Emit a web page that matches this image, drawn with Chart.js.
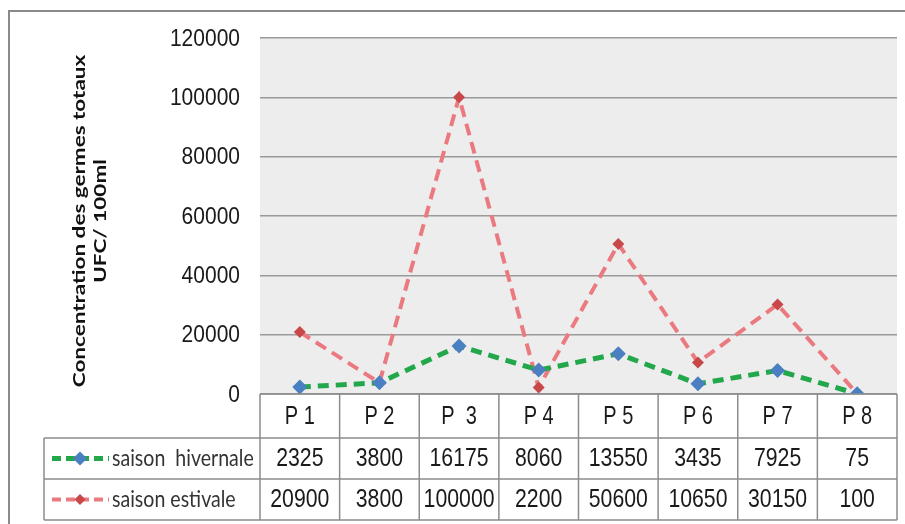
<!DOCTYPE html>
<html>
<head>
<meta charset="utf-8">
<script src="https://cdn.jsdelivr.net/npm/chart.js@4/dist/chart.umd.min.js"></script>
<style>
  html, body { margin: 0; padding: 0; background: #ffffff; }
  #wrap { position: relative; width: 905px; height: 524px; }
  #frame { position: absolute; left: 8px; top: 10px; width: 910px; height: 520px;
           border: 2px solid #8a8a8a; box-sizing: border-box; pointer-events: none; }
</style>
</head>
<body>
<div id="wrap">
  <canvas id="chart" width="905" height="524"></canvas>
  <div id="frame"></div>
</div>
<script>
// Sampling points
const categories = ['P 1', 'P 2', 'P  3', 'P 4', 'P 5', 'P 6', 'P 7', 'P 8'];
// Total germ counts (UFC / 100 ml)
const hiverValues = [2325, 3800, 16175, 8060, 13550, 3435, 7925, 75];
const esteValues = [20900, 3800, 100000, 2200, 50600, 10650, 30150, 100];
const seriesNames = ['saison  hivernale', 'saison estivale'];
const yTicks = [0, 20000, 40000, 60000, 80000, 100000, 120000];
const yTitle = ['Concentration des germes totaux', 'UFC/ 100ml'];

const NUM_FONT = '"Liberation Sans", Arial, sans-serif';
const TXT_FONT = 'Lato, "Open Sans", sans-serif';

// Draws text squeezed horizontally by sx around its anchor
function squeezedText(ctx, text, x, y, sx, align) {
  ctx.save();
  ctx.translate(x, y);
  ctx.scale(sx, 1);
  ctx.textAlign = align || 'center';
  ctx.fillText(text, 0, 0);
  ctx.restore();
}

// Grey plot area behind the lines
const plotBackground = {
  id: 'plotBackground',
  beforeDraw(chart) {
    const { ctx, chartArea: a } = chart;
    ctx.save();
    ctx.fillStyle = '#ededed';
    ctx.fillRect(a.left, a.top, a.right - a.left, a.bottom - a.top);
    ctx.restore();
  }
};

// Value axis labels and rotated two-line title
const valueAxis = {
  id: 'valueAxis',
  afterDraw(chart) {
    const { ctx, chartArea: a } = chart;
    const y = chart.scales.y;
    ctx.save();
    ctx.fillStyle = '#1a1a1a';
    ctx.textBaseline = 'middle';
    ctx.font = '24px ' + NUM_FONT;
    y.ticks.forEach(t => {
      squeezedText(ctx, String(t.value), a.left - 20, y.getPixelForValue(t.value) + 1, 0.875, 'right');
    });

    ctx.fillStyle = '#111111';
    ctx.font = 'bold 22.5px ' + TXT_FONT;
    const cy = (a.top + a.bottom) / 2 + 5;
    [[yTitle[0], 79], [yTitle[1], 100]].forEach(([txt, cx]) => {
      ctx.save();
      ctx.translate(cx, cy);
      ctx.rotate(-Math.PI / 2);
      ctx.scale(1, 0.76);
      ctx.textAlign = 'center';
      ctx.fillText(txt, 0, 0);
      ctx.restore();
    });
    ctx.restore();
  }
};

// Data table under the plot, with legend keys in the first column
const dataTable = {
  id: 'dataTable',
  afterDraw(chart) {
    const { ctx, chartArea: a } = chart;
    const x = chart.scales.x;
    const n = categories.length;
    const step = x.getPixelForTick(1) - x.getPixelForTick(0);
    const left = x.getPixelForTick(0) - step / 2;
    const right = x.getPixelForTick(n - 1) + step / 2;
    const legLeft = 44;
    const r0 = a.bottom, r1 = r0 + 44, r2 = r1 + 41, r3 = r2 + 41;

    ctx.save();
    ctx.strokeStyle = '#8c8c8c';
    ctx.lineWidth = 1.5;
    ctx.beginPath();
    ctx.moveTo(left, r0); ctx.lineTo(right, r0);
    [r1, r2, r3].forEach(y => { ctx.moveTo(legLeft, y); ctx.lineTo(right, y); });
    for (let i = 0; i <= n; i++) {
      const xx = left + i * step;
      ctx.moveTo(xx, r0); ctx.lineTo(xx, r3);
    }
    ctx.moveTo(legLeft, r1); ctx.lineTo(legLeft, r3);
    ctx.stroke();

    ctx.fillStyle = '#1a1a1a';
    ctx.textBaseline = 'middle';
    ctx.font = '25px ' + NUM_FONT;
    categories.forEach((c, i) => squeezedText(ctx, c, x.getPixelForTick(i), (r0 + r1) / 2 + 1, 0.8));
    const rows = [[hiverValues, (r1 + r2) / 2 + 1], [esteValues, (r2 + r3) / 2 + 1]];
    rows.forEach(([vals, yy]) => {
      vals.forEach((v, i) => squeezedText(ctx, String(v), x.getPixelForTick(i), yy, 0.85));
    });

    // legend keys
    chart.data.datasets.forEach((ds, k) => {
      const yy = k === 0 ? (r1 + r2) / 2 : (r2 + r3) / 2;
      ctx.save();
      ctx.strokeStyle = ds.borderColor;
      ctx.lineWidth = ds.borderWidth;
      ctx.setLineDash([9, 5]);
      ctx.beginPath();
      ctx.moveTo(52, yy); ctx.lineTo(109, yy);
      ctx.stroke();
      ctx.restore();
      const r = k === 0 ? 7 : 5.5;
      ctx.fillStyle = ds.pointBackgroundColor;
      ctx.beginPath();
      ctx.moveTo(80, yy - r); ctx.lineTo(80 + r, yy); ctx.lineTo(80, yy + r); ctx.lineTo(80 - r, yy);
      ctx.closePath();
      ctx.fill();
      ctx.fillStyle = '#333333';
      ctx.font = '23px ' + TXT_FONT;
      squeezedText(ctx, ds.label, 112, yy, 0.85, 'left');
    });
    ctx.restore();
  }
};

new Chart(document.getElementById('chart'), {
  type: 'line',
  data: {
    labels: categories,
    datasets: [
      {
        label: seriesNames[0],
        data: hiverValues,
        borderColor: '#22a84a',
        borderWidth: 5,
        borderDash: [11, 7],
        pointStyle: 'rectRot',
        pointRadius: 7.5,
        pointBackgroundColor: '#4a7fc1',
        pointBorderColor: '#4a7fc1',
        pointBorderWidth: 0,
        tension: 0
      },
      {
        label: seriesNames[1],
        data: esteValues,
        borderColor: '#eb7a80',
        borderWidth: 4,
        borderDash: [12, 7],
        pointStyle: 'rectRot',
        pointRadius: 6,
        pointBackgroundColor: '#c8484a',
        pointBorderColor: '#c8484a',
        pointBorderWidth: 0,
        tension: 0
      }
    ]
  },
  options: {
    responsive: false,
    animation: false,
    layout: { padding: { left: 10, right: 8, top: 38, bottom: 130 } },
    plugins: { legend: { display: false }, tooltip: { enabled: false } },
    scales: {
      x: {
        offset: true,
        ticks: { display: false },
        grid: { display: false, drawTicks: false },
        border: { display: false }
      },
      y: {
        min: 0,
        max: 120000,
        afterBuildTicks(scale) { scale.ticks = yTicks.map(v => ({ value: v })); },
        afterFit(scale) { scale.width = 250; },
        ticks: { display: false },
        grid: { color: '#9a9a9a', lineWidth: 1.5, drawTicks: false },
        border: { display: false },
        title: { display: false }
      }
    }
  },
  plugins: [plotBackground, valueAxis, dataTable]
});
</script>
</body>
</html>
